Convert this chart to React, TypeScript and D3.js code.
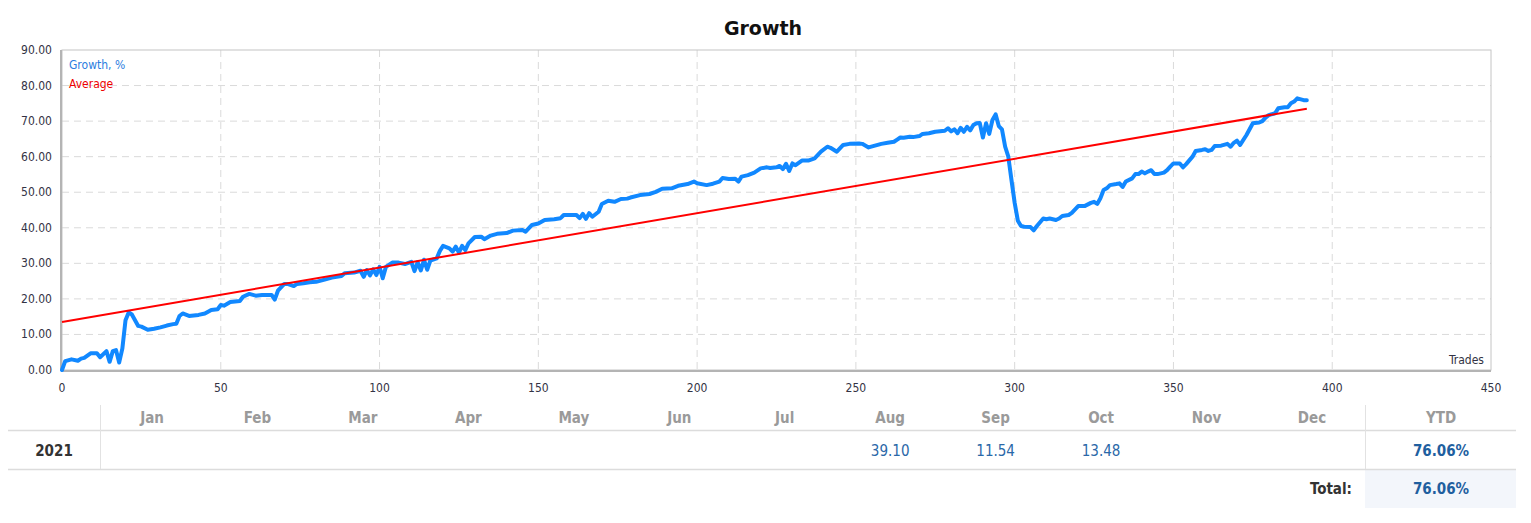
import React from "react";
import * as d3 from "d3";

const trades = [
  0, 1, 3, 5, 6, 7, 9, 11, 12, 14, 15, 16, 17, 18, 19, 20, 21, 22, 23, 24, 25, 27, 29, 31, 33, 35, 36, 37, 38, 40,
  43, 45, 47, 49, 50, 51, 53, 56, 57, 59, 61, 63, 66, 67, 68, 70, 71, 73, 74, 76, 78, 80, 83, 85, 88, 89, 92, 94, 95, 96,
  97, 98, 99, 100, 101, 102, 104, 106, 108, 110, 111, 112, 113, 114, 115, 116, 118, 119, 120, 122, 123, 124, 125, 126, 127, 128, 130, 132, 133, 135,
  137, 140, 142, 145, 146, 148, 150, 152, 155, 157, 158, 162, 163, 164, 165, 166, 167, 169, 170, 172, 174, 176, 178, 179, 182, 185, 187, 189, 192, 194,
  197, 199, 200, 203, 205, 207, 208, 210, 212, 213, 214, 216, 218, 220, 222, 223, 225, 226, 227, 228, 229, 230, 231, 233, 235, 237, 239, 241, 242, 244,
  246, 248, 251, 252, 254, 256, 258, 260, 262, 263, 264, 265, 267, 268, 270, 271, 273, 275, 278, 279, 280, 281, 282, 283, 284, 285, 286, 287, 288, 289,
  290, 291, 292, 293, 294, 295, 296, 297, 298, 299, 300, 301, 302, 303, 305, 306, 307, 309, 310, 311, 313, 314, 315, 317, 318, 320, 322, 324, 325, 326,
  327, 328, 329, 330, 332, 333, 334, 335, 337, 338, 339, 340, 341, 342, 343, 344, 345, 347, 348, 349, 350, 352, 353, 354, 356, 357, 359, 360, 361, 362,
  363, 365, 367, 368, 369, 370, 371, 373, 375, 377, 378, 379, 380, 382, 383, 385, 386, 387, 388, 389, 391, 392,
];
const growth = [
  0.0, 2.5, 3.0, 2.6, 3.2, 3.4, 4.7, 4.7, 3.6, 5.3, 2.3, 5.3, 5.6, 2.1, 6.0, 14.0, 16.2, 15.6, 14.0, 12.4, 12.2, 11.3, 11.6, 12.0, 12.5, 12.9, 13.0, 15.2, 15.9, 15.2,
  15.5, 15.9, 16.9, 17.1, 18.3, 18.1, 19.1, 19.4, 20.6, 21.4, 20.9, 21.1, 21.1, 19.8, 22.3, 24.2, 24.2, 23.6, 24.2, 24.4, 24.7, 24.8, 25.5, 26.0, 26.4, 27.2, 27.4, 27.9, 26.2, 28.1,
  26.6, 28.3, 26.7, 29.0, 25.8, 29.0, 30.2, 30.2, 29.8, 30.4, 27.8, 30.3, 28.0, 31.0, 28.2, 30.8, 31.4, 33.5, 34.9, 34.2, 33.3, 34.7, 33.0, 34.9, 33.7, 35.6, 37.4, 37.5, 36.8, 37.8,
  38.3, 38.5, 39.2, 39.4, 38.9, 40.8, 41.2, 42.2, 42.4, 42.7, 43.6, 43.6, 42.7, 43.9, 42.5, 44.1, 43.1, 44.5, 46.7, 47.6, 47.3, 48.1, 48.2, 48.5, 49.2, 49.5, 50.1, 51.0, 51.1, 51.8,
  52.3, 53.0, 52.5, 52.0, 52.4, 53.0, 54.0, 53.7, 53.8, 53.0, 54.4, 54.8, 55.5, 56.7, 57.0, 56.8, 57.0, 57.4, 56.5, 58.0, 56.0, 58.1, 57.6, 58.9, 58.9, 59.5, 61.4, 62.8, 62.5, 61.4,
  63.3, 63.6, 63.7, 63.6, 62.6, 63.1, 63.6, 63.9, 64.2, 64.8, 65.4, 65.3, 65.6, 65.5, 65.8, 66.4, 66.6, 67.0, 67.3, 68.0, 67.1, 67.7, 66.6, 68.1, 67.0, 68.4, 67.4, 68.9, 69.4, 69.5,
  65.4, 69.4, 66.4, 70.3, 71.9, 68.6, 67.7, 62.8, 60.0, 53.4, 47.0, 42.0, 40.5, 40.3, 40.2, 39.3, 40.5, 42.6, 42.4, 42.6, 42.2, 42.6, 43.3, 43.6, 44.2, 46.1, 46.1, 47.0, 47.3, 46.7,
  48.3, 50.6, 51.1, 52.0, 52.3, 52.5, 51.5, 53.0, 53.9, 55.1, 55.1, 55.8, 55.3, 55.8, 56.2, 55.1, 55.1, 55.5, 56.2, 57.2, 58.1, 58.1, 57.0, 57.9, 60.0, 61.6, 61.9, 62.1, 61.6, 61.9,
  63.0, 63.1, 63.6, 62.8, 63.9, 64.5, 63.3, 66.1, 69.4, 69.6, 70.0, 71.0, 71.7, 72.2, 73.6, 73.9, 73.9, 75.0, 75.5, 76.4, 75.9, 75.9,
];
const averageTrades = [0, 392];
const averageValues = [13.5, 73.5];

const xTicks = [0, 50, 100, 150, 200, 250, 300, 350, 400, 450];
const yTicks = [0, 10, 20, 30, 40, 50, 60, 70, 80, 90];

const months = ["Jan", "Feb", "Mar", "Apr", "May", "Jun", "Jul", "Aug", "Sep", "Oct", "Nov", "Dec"];
const yearLabel = "2021";
const monthValues = ["", "", "", "", "", "", "", "39.10", "11.54", "13.48", "", ""];
const ytdValue = "76.06%";
const totalValue = "76.06%";

const tickFont = "'DejaVu Sans Condensed', 'DejaVu Sans', Verdana, sans-serif";
const titleFont = "'DejaVu Sans', Verdana, sans-serif";
const tableFont = "'Liberation Sans Narrow', 'DejaVu Sans Condensed', 'Liberation Sans', sans-serif";

export default function App() {
  const x = d3.scaleLinear().domain([0, 450]).range([62, 1491]);
  const y = d3.scaleLinear().domain([0, 90]).range([370, 50]);

  const pts: [number, number][] = trades.map((t, i) => [t, growth[i]]);
  const line = d3
    .line<[number, number]>()
    .x((d) => x(d[0]))
    .y((d) => y(d[1]));
  const avgPts: [number, number][] = averageTrades.map((t, i) => [t, averageValues[i]]);

  const colX = d3.scaleLinear().domain([0, 11]).range([152, 1312]);

  return (
    <svg
      width={1531}
      height={523}
      style={{ position: "absolute", left: 0, top: 0, background: "#fff" }}
    >
      <text x={763} y={35} textAnchor="middle" fontFamily={titleFont} fontWeight="bold" fontSize={19} fill="#111">
        Growth
      </text>

      {/* grid */}
      {yTicks.slice(1, -1).map((v) => (
        <line key={"gy" + v} x1={62} x2={1491} y1={y(v)} y2={y(v)} stroke="#dadada" strokeDasharray="7,5" />
      ))}
      {xTicks.slice(1, -1).map((v) => (
        <line key={"gx" + v} x1={x(v)} x2={x(v)} y1={50} y2={370} stroke="#dadada" strokeDasharray="7,5" />
      ))}

      {/* frame */}
      <rect x={62} y={50} width={1429} height={320} fill="none" stroke="#c4c4c4" strokeWidth={1} />
      <line x1={61} x2={61} y1={50} y2={371} stroke="#b4b4b4" strokeWidth={2} />
      <line x1={61} x2={1491} y1={371} y2={371} stroke="#b4b4b4" strokeWidth={2} />

      {/* y labels */}
      {yTicks.map((v) => (
        <text key={"yl" + v} x={52} y={y(v) + 4} textAnchor="end" fontFamily={tickFont} fontSize={12} fill="#333344">
          {v.toFixed(2)}
        </text>
      ))}
      {/* x labels */}
      {xTicks.map((v) => (
        <text key={"xl" + v} x={x(v)} y={392} textAnchor="middle" fontFamily={tickFont} fontSize={12} fill="#333344">
          {v}
        </text>
      ))}

      <text x={1484} y={364} textAnchor="end" fontFamily={tickFont} fontSize={12} fill="#333344">
        Trades
      </text>

      {/* legend */}
      <text x={69} y={69} fontFamily={tickFont} fontSize={12} fill="#2b7de0">
        Growth, %
      </text>
      <text x={69} y={88} fontFamily={tickFont} fontSize={12} fill="#ee0000">
        Average
      </text>

      {/* series */}
      <path d={line(pts) || ""} fill="none" stroke="#1188ff" strokeWidth={4} strokeLinejoin="round" strokeLinecap="round" />
      <path d={line(avgPts) || ""} fill="none" stroke="#ff0000" strokeWidth={2} />

      {/* table */}
      <rect x={1365} y={470} width={151} height={38} fill="#f3f6fb" />
      <line x1={8} x2={1516} y1={430.5} y2={430.5} stroke="#dcdcdc" strokeWidth={1.5} />
      <line x1={8} x2={1516} y1={469.5} y2={469.5} stroke="#dcdcdc" strokeWidth={1.5} />
      <line x1={100.5} x2={100.5} y1={405} y2={469} stroke="#e2e2e2" />
      <line x1={1365.5} x2={1365.5} y1={405} y2={469} stroke="#e2e2e2" />

      {months.map((m, i) => (
        <text key={"m" + m} x={colX(i)} y={423} textAnchor="middle" fontFamily={tableFont} fontWeight="bold" fontSize={15} fill="#9a9a9a">
          {m}
        </text>
      ))}
      <text x={1441} y={423} textAnchor="middle" fontFamily={tableFont} fontWeight="bold" fontSize={15} fill="#9a9a9a">
        YTD
      </text>
      <text x={54} y={456} textAnchor="middle" fontFamily={tableFont} fontWeight="bold" fontSize={15} fill="#333">
        {yearLabel}
      </text>
      {monthValues.map((v, i) =>
        v ? (
          <text key={"v" + i} x={colX(i)} y={456} textAnchor="middle" fontFamily={tableFont} fontSize={15} fill="#2a68a8">
            {v}
          </text>
        ) : null
      )}
      <text x={1441} y={456} textAnchor="middle" fontFamily={tableFont} fontWeight="bold" fontSize={15} fill="#1f5f9f">
        {ytdValue}
      </text>
      <text x={1352} y={494} textAnchor="end" fontFamily={tableFont} fontWeight="bold" fontSize={15} fill="#333">
        Total:
      </text>
      <text x={1441} y={494} textAnchor="middle" fontFamily={tableFont} fontWeight="bold" fontSize={15} fill="#1f5f9f">
        {totalValue}
      </text>
    </svg>
  );
}
